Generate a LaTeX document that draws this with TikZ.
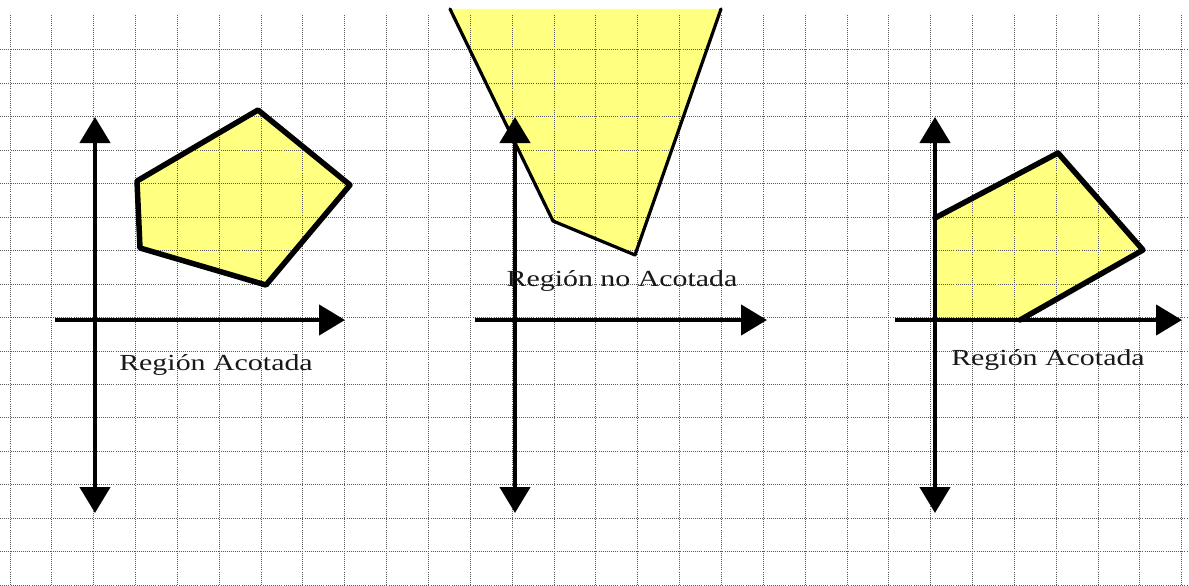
\documentclass[tikz,border=0pt]{standalone}
\usepackage{fontspec}
\setmainfont{Liberation Serif}
\usetikzlibrary{arrows.meta}
\definecolor{regfill}{RGB}{255,255,128}
\tikzset{
  gridline/.style={draw=black!65, line width=1pt, dash pattern=on 1pt off 1.1pt},
  axisline/.style={line width=4.5pt, {Triangle[width=30pt,length=26pt]}-{Triangle[width=30pt,length=26pt]}},
  axisone/.style={line width=4.5pt, -{Triangle[width=30pt,length=26pt]}},
  bound/.style={line width=5.5pt, line join=round, line cap=round},
  thinbound/.style={line width=3.2pt, line join=round, line cap=round},
  lbl/.style={inner sep=0pt, text=black!90, font=\fontsize{23}{23}\selectfont}
}
\begin{document}
\begin{tikzpicture}[x=1pt,y=-1pt]
\useasboundingbox (0,0) rectangle (1189,586);
\fill[white] (0,0) rectangle (1189,586);
% region fills (below the grid)
\coordinate (p1a) at (137,181);
\coordinate (p1b) at (140,248);
\coordinate (p1c) at (266,285);
\coordinate (p1d) at (350,185);
\coordinate (p1e) at (258,110);
\fill[regfill] (p1a) -- (p1b) -- (p1c) -- (p1d) -- (p1e) -- cycle;
\coordinate (q1) at (450,9);
\coordinate (q2) at (553,221);
\coordinate (q3) at (635,255);
\coordinate (q4) at (721,9);
\fill[regfill] (q1) -- (q2) -- (q3) -- (q4) -- cycle;
\coordinate (r1) at (935,218);
\coordinate (r2) at (1058,153);
\coordinate (r3) at (1143,250);
\coordinate (r4) at (1020,320);
\coordinate (r5) at (935,320);
\fill[regfill] (r1) -- (r2) -- (r3) -- (r4) -- (r5) -- cycle;
% grid
\foreach \i in {0,...,28}{
  \draw[gridline] ({10+41.85*\i},15) -- ({10+41.85*\i},586);
}
\foreach \j in {0,...,16}{
  \draw[gridline] (0,{50+33.45*\j}) -- (1189,{50+33.45*\j});
}
% ---------- panel 1 ----------
\coordinate (y1t) at (95,117);
\coordinate (y1b) at (95,513);
\coordinate (x1l) at (55,320);
\coordinate (x1r) at (345,320);
\draw[axisline] (y1b) -- (y1t);
\draw[axisone] (x1l) -- (x1r);
\draw[bound] (p1a) -- (p1b) -- (p1c) -- (p1d) -- (p1e) -- cycle;
\node[lbl] (t1) at (216,365) {\scalebox{1.3}[1]{Región Acotada}};
% ---------- panel 2 ----------
\coordinate (y2t) at (515,117);
\coordinate (y2b) at (515,513);
\coordinate (x2l) at (475,320);
\coordinate (x2r) at (767,320);
\draw[axisline] (y2b) -- (y2t);
\draw[axisone] (x2l) -- (x2r);
\draw[thinbound] (q1) -- (q2) -- (q3) -- (q4);
\node[lbl] (t2) at (622,281) {\scalebox{1.3}[1]{Región no Acotada}};
% ---------- panel 3 ----------
\coordinate (y3t) at (935,117);
\coordinate (y3b) at (935,513);
\coordinate (x3l) at (895,320);
\coordinate (x3r) at (1182,320);
\draw[axisline] (y3b) -- (y3t);
\draw[axisone] (x3l) -- (x3r);
\draw[bound] (r1) -- (r2) -- (r3) -- (r4);
\node[lbl] (t3) at (1048,360) {\scalebox{1.3}[1]{Región Acotada}};
\end{tikzpicture}
\end{document}
